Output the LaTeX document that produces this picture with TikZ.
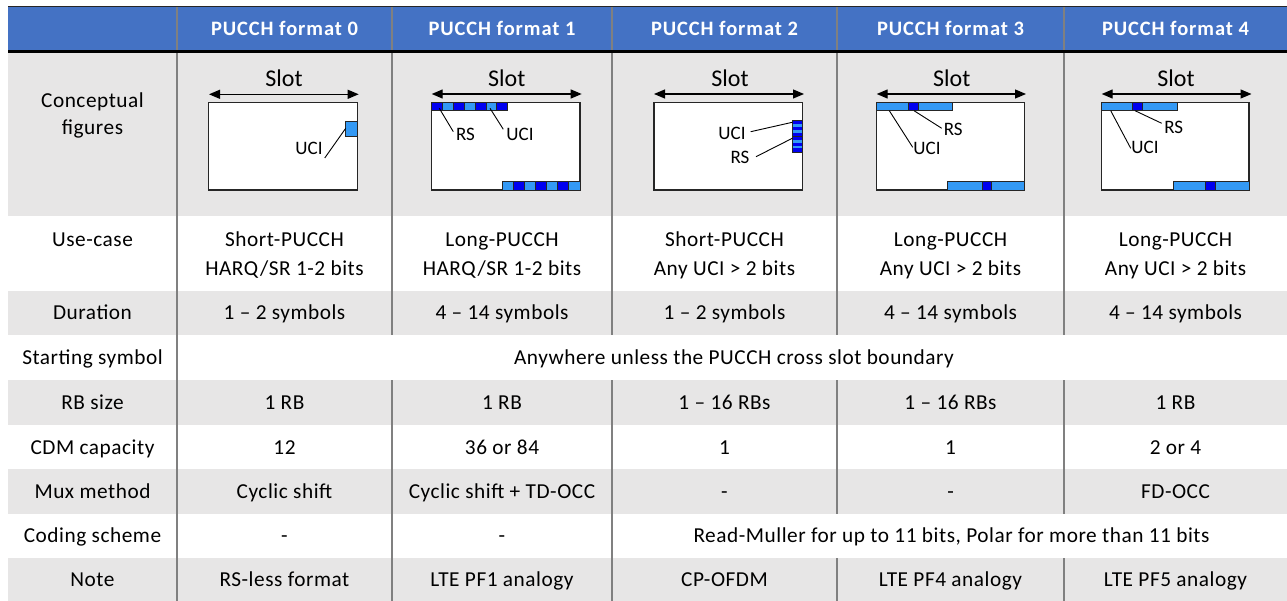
\documentclass[tikz,border=0pt]{standalone}
\usepackage{fontspec}
\setmainfont{Carlito}
\newfontfamily\bodyfont[LetterSpace=2.5]{Carlito}
\newfontfamily\hdrfont[LetterSpace=4.5]{Carlito}
\usetikzlibrary{arrows.meta}
\definecolor{hdrblue}{HTML}{4472C4}
\definecolor{rowgray}{HTML}{E7E6E6}
\definecolor{sepgray}{HTML}{808080}
\definecolor{dkblue}{HTML}{0000F0}
\definecolor{ltblue}{HTML}{3399F5}
\tikzset{
  cell/.style={anchor=base, inner sep=0pt, align=center, font=\bodyfont\fontsize{21.3}{28}\selectfont},
  hdr/.style={anchor=base, inner sep=0pt, text=white, font=\hdrfont\fontsize{20.5}{24}\selectfont\bfseries},
  slotlbl/.style={anchor=base, inner sep=0pt, font=\fontsize{24}{28}\selectfont},
  figlbl/.style={anchor=base, inner sep=0pt, font=\fontsize{19}{22}\selectfont},
  frame/.style={draw=black!85, line width=1.3pt, fill=white},
  seg/.style={draw=black!85, line width=0.9pt},
  dk/.style={seg, fill=dkblue},
  lt/.style={seg, fill=ltblue},
  leader/.style={draw=black, line width=0.9pt},
  slotarrow/.style={{Triangle[length=11pt,width=9pt]}-{Triangle[length=11pt,width=9pt]}, line width=1.2pt},
  sepline/.style={draw=sepgray, line width=1.4pt},
  grayrow/.style={fill=rowgray, draw=none}
}
\begin{document}
\begin{tikzpicture}[x=1pt,y=-1pt]
\useasboundingbox (0,0) rectangle (1287,601);
\fill[white] (0,0) rectangle (1287,601);
% header band
\fill[hdrblue] (8,7) rectangle (1287,51);
\draw[line width=1pt, black!85] (8,7) -- (1287,7);
% row backgrounds
\fill[grayrow] (8,53) rectangle (1287,216);
\fill[grayrow] (8,291) rectangle (1287,335);
\fill[grayrow] (8,380) rectangle (1287,425);
\fill[grayrow] (8,469) rectangle (1287,514);
\fill[grayrow] (8,558) rectangle (1287,601);
% separators
\foreach \x in {177,392,612,837,1064} {\draw[sepline] (\x,7.5) -- (\x,50.5);}
\draw[sepline] (177,53) -- (177,601);
\foreach \x in {392,612} {\draw[sepline] (\x,53) -- (\x,335); \draw[sepline] (\x,380) -- (\x,601);}
\foreach \x in {837,1064} {\draw[sepline] (\x,53) -- (\x,335); \draw[sepline] (\x,380) -- (\x,514); \draw[sepline] (\x,558) -- (\x,601);}
\draw[line width=2.8pt, black] (8,51.9) -- (1287,51.9);
% header texts
\node[hdr] (h1) at (284.5,36) {PUCCH format 0};
\node[hdr] (h2) at (502,36) {PUCCH format 1};
\node[hdr] (h3) at (724.5,36) {PUCCH format 2};
\node[hdr] (h4) at (950.5,36) {PUCCH format 3};
\node[hdr] (h5) at (1175.5,36) {PUCCH format 4};
% row labels
\node[cell, font=\bodyfont\fontsize{21.3}{27}\selectfont] (lconc) at (92.5,135) {Conceptual\\figures};
\node[cell] (luse) at (92.5,246.5) {Use-case};
\node[cell] (ldur) at (92.5,319.5) {Duration};
\node[cell] (lstart) at (92.5,364) {Starting symbol};
\node[cell] (lrb) at (92.5,409) {RB size};
\node[cell] (lcdm) at (92.5,454) {CDM capacity};
\node[cell] (lmux) at (92.5,498) {Mux method};
\node[cell] (lcod) at (92.5,542) {Coding scheme};
\node[cell] (lnote) at (92.5,586.5) {Note};
% use-case
\node[cell, font=\bodyfont\fontsize{21.3}{29.5}\selectfont] (u1) at (284.5,276) {Short-PUCCH\\HARQ/SR 1-2 bits};
\node[cell, font=\bodyfont\fontsize{21.3}{29.5}\selectfont] (u2) at (502,276) {Long-PUCCH\\HARQ/SR 1-2 bits};
\node[cell, font=\bodyfont\fontsize{21.3}{29.5}\selectfont] (u3) at (724.5,276) {Short-PUCCH\\Any UCI {\char"003E} 2 bits};
\node[cell, font=\bodyfont\fontsize{21.3}{29.5}\selectfont] (u4) at (950.5,276) {Long-PUCCH\\Any UCI {\char"003E} 2 bits};
\node[cell, font=\bodyfont\fontsize{21.3}{29.5}\selectfont] (u5) at (1175.5,276) {Long-PUCCH\\Any UCI {\char"003E} 2 bits};
% duration
\node[cell] (d1) at (284.5,319.5) {1 – 2 symbols};
\node[cell] (d2) at (502,319.5) {4 – 14 symbols};
\node[cell] (d3) at (724.5,319.5) {1 – 2 symbols};
\node[cell] (d4) at (950.5,319.5) {4 – 14 symbols};
\node[cell] (d5) at (1175.5,319.5) {4 – 14 symbols};
% starting symbol
\node[cell] (s1) at (734,364) {Anywhere unless the PUCCH cross slot boundary};
% RB size
\node[cell] (r1) at (284.5,409) {1 RB};
\node[cell] (r2) at (502,409) {1 RB};
\node[cell] (r3) at (724.5,409) {1 – 16 RBs};
\node[cell] (r4) at (950.5,409) {1 – 16 RBs};
\node[cell] (r5) at (1175.5,409) {1 RB};
% CDM
\node[cell] (c1) at (284.5,454) {12};
\node[cell] (c2) at (502,454) {36 or 84};
\node[cell] (c3) at (724.5,454) {1};
\node[cell] (c4) at (950.5,454) {1};
\node[cell] (c5) at (1175.5,454) {2 or 4};
% Mux
\node[cell] (m1) at (284.5,498) {Cyclic shift};
\node[cell] (m2) at (502,498) {Cyclic shift + TD-OCC};
\node[cell] (m3) at (724.5,498) {-};
\node[cell] (m4) at (950.5,498) {-};
\node[cell] (m5) at (1175.5,498) {FD-OCC};
% Coding
\node[cell] (k1) at (284.5,542) {-};
\node[cell] (k2) at (502,542) {-};
\node[cell] (k3) at (951.5,542) {Read-Muller for up to 11 bits, Polar for more than 11 bits};
% Note
\node[cell] (n1) at (284.5,586.5) {RS-less format};
\node[cell] (n2) at (502,586.5) {LTE PF1 analogy};
\node[cell] (n3) at (724.5,586.5) {CP-OFDM};
\node[cell] (n4) at (950.5,586.5) {LTE PF4 analogy};
\node[cell] (n5) at (1175.5,586.5) {LTE PF5 analogy};

% ---------- Format 0 figure
\coordinate (f0al) at (209,94.3); \coordinate (f0ar) at (358.7,94.3);
\draw[slotarrow] (f0al) -- (f0ar);
\node[slotlbl] (f0slot) at (284,87) {Slot};
\draw[frame] (208.7,102.7) rectangle (357.7,190);
\draw[lt] (345.7,121.3) rectangle (357.7,136.3);
\node[figlbl] (f0uci) at (309,155) {UCI};
\coordinate (f0ue) at (345.7,128.3);
\draw[leader] ([xshift=2pt,yshift=-3pt]f0uci.base east) -- (f0ue);

% ---------- Format 1 figure
\coordinate (f1al) at (431.7,94); \coordinate (f1ar) at (581.7,94);
\draw[slotarrow] (f1al) -- (f1ar);
\node[slotlbl] (f1slot) at (506.7,87) {Slot};
\draw[frame] (431.7,102.3) rectangle (580,190);
\foreach \i in {0,...,6} {
  \pgfmathsetmacro{\xa}{431.7+10.86*\i}
  \pgfmathsetmacro{\xb}{431.7+10.86*(\i+1)}
  \ifodd\i \draw[lt] (\xa,102.3) rectangle (\xb,110); \else \draw[dk] (\xa,102.3) rectangle (\xb,110); \fi
  \pgfmathsetmacro{\xc}{502.7+11.04*\i}
  \pgfmathsetmacro{\xd}{502.7+11.04*(\i+1)}
  \ifodd\i \draw[dk] (\xc,181.7) rectangle (\xd,190); \else \draw[lt] (\xc,181.7) rectangle (\xd,190); \fi
}
\node[figlbl] (f1rs) at (465.5,140.7) {RS};
\node[figlbl] (f1uci) at (520,140.7) {UCI};
\coordinate (f1rse) at (439.3,108.3); \coordinate (f1rsl) at (453.3,131.7);
\coordinate (f1ue) at (490,108.3); \coordinate (f1ul) at (503.3,129.3);
\draw[leader] (f1rsl) -- (f1rse);
\draw[leader] (f1ul) -- (f1ue);

% ---------- Format 2 figure
\coordinate (f2al) at (654,94); \coordinate (f2ar) at (804,94);
\draw[slotarrow] (f2al) -- (f2ar);
\node[slotlbl] (f2slot) at (730,87) {Slot};
\draw[frame] (654,102.3) rectangle (802.3,190);
\foreach \y in {120.7,136.4} {
  \fill[dkblue] (792,\y) rectangle (802.3,\y+15.6);
  \fill[ltblue] (792,\y+3.6) rectangle (802.3,\y+6.4);
  \fill[ltblue] (792,\y+9.2) rectangle (802.3,\y+12);
  \draw[seg] (792,\y) rectangle (802.3,\y+15.6);
}
\node[figlbl] (f2uci) at (732,140) {UCI};
\node[figlbl] (f2rs) at (740,164) {RS};
\coordinate (f2ul) at (750.7,131.7); \coordinate (f2ue) at (792.3,122.3);
\coordinate (f2rl) at (756,156.7); \coordinate (f2re) at (792.3,138.3);
\draw[leader] (f2ul) -- (f2ue);
\draw[leader] (f2rl) -- (f2re);

% ---------- Format 3 figure
\coordinate (f3al) at (876.7,94); \coordinate (f3ar) at (1026,94);
\draw[slotarrow] (f3al) -- (f3ar);
\node[slotlbl] (f3slot) at (951.7,87) {Slot};
\draw[frame] (876.7,102.3) rectangle (1024.3,190);
\draw[lt] (876.7,102.3) rectangle (908.3,110);
\draw[dk] (908.3,102.3) rectangle (918.7,110);
\draw[lt] (918.7,102.3) rectangle (952,110);
\draw[lt] (947.7,181.7) rectangle (982.7,190);
\draw[dk] (982.7,181.7) rectangle (991.7,190);
\draw[lt] (991.7,181.7) rectangle (1024.3,190);
\node[figlbl] (f3uci) at (927,154.5) {UCI};
\node[figlbl] (f3rs) at (953.3,136) {RS};
\coordinate (f3ue) at (889.3,110.7); \coordinate (f3ul) at (912.7,147.3);
\coordinate (f3re) at (914,110.7); \coordinate (f3rl) at (941.7,128.3);
\draw[leader] (f3ue) -- (f3ul);
\draw[leader] (f3re) -- (f3rl);

% ---------- Format 4 figure
\coordinate (f4al) at (1101.7,94); \coordinate (f4ar) at (1251.5,94);
\draw[slotarrow] (f4al) -- (f4ar);
\node[slotlbl] (f4slot) at (1176,87) {Slot};
\draw[frame] (1101.7,102.3) rectangle (1249,190);
\draw[lt] (1101.7,102.3) rectangle (1132.7,110);
\draw[dk] (1132.7,102.3) rectangle (1142.7,110);
\draw[lt] (1142.7,102.3) rectangle (1177.3,110);
\draw[lt] (1173.3,181.7) rectangle (1205.7,190);
\draw[dk] (1205.7,181.7) rectangle (1215.7,190);
\draw[lt] (1215.7,181.7) rectangle (1249,190);
\node[figlbl] (f4uci) at (1145,154) {UCI};
\node[figlbl] (f4rs) at (1173.7,134) {RS};
\coordinate (f4ue) at (1110.7,110.7); \coordinate (f4ul) at (1130.7,148.3);
\coordinate (f4re) at (1135,110.7); \coordinate (f4rl) at (1161.7,123.3);
\draw[leader] (f4ue) -- (f4ul);
\draw[leader] (f4re) -- (f4rl);
\end{tikzpicture}
\end{document}
